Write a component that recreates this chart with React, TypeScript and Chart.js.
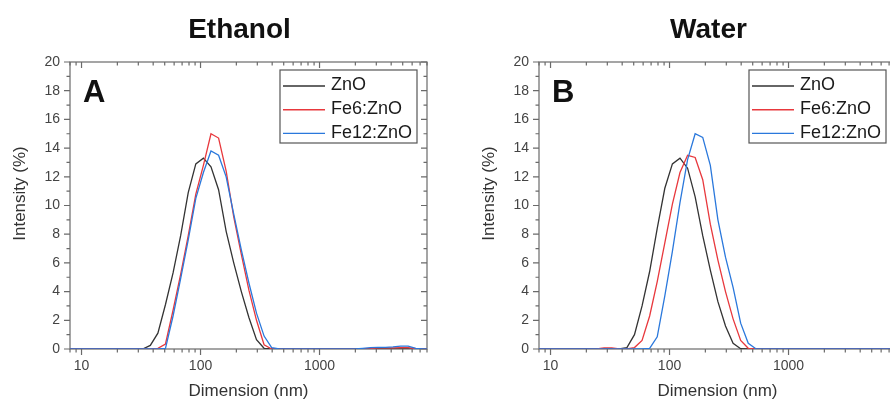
import React, { useEffect, useRef } from "react";
import { Chart, registerables } from "chart.js";

Chart.register(...registerables);

// DLS size bins (nm)
const sizes = [
  7.531, 8.721, 10.1, 11.7, 13.54, 15.69, 18.17, 21.04, 24.36, 28.21, 32.67, 37.84,
  43.82, 50.75, 58.77, 68.06, 78.82, 91.28, 105.7, 122.4, 141.8, 164.2, 190.1, 220.2,
  255, 295.3, 342, 396.1, 458.7, 531.2, 615.1, 712.4, 825, 955.4, 1106, 1281, 1484,
  1718, 1990, 2305, 2669, 3091, 3580, 4145, 4801, 5560, 6439, 7456, 8635,
];

// Panel A – Ethanol (intensity %)
const ethanolZnO = [
  0, 0, 0, 0, 0, 0, 0, 0, 0, 0, 0, 0.25,
  1.1, 3.1, 5.3, 7.9, 10.9, 12.9, 13.3, 12.7, 11.1, 8.2, 6.0, 4.0,
  2.2, 0.65, 0.05, 0, 0, 0, 0, 0, 0, 0, 0, 0, 0,
  0, 0, 0, 0, 0, 0, 0, 0, 0, 0, 0, 0,
];
const ethanolFe6 = [
  0, 0, 0, 0, 0, 0, 0, 0, 0, 0, 0, 0,
  0.05, 0.35, 2.7, 5.2, 7.9, 10.8, 12.8, 15.0, 14.7, 12.4, 9.2, 6.6,
  4.1, 2.0, 0.3, 0, 0, 0, 0, 0, 0, 0, 0, 0, 0,
  0, 0, 0, 0.03, 0.08, 0.08, 0.08, 0.1, 0.1, 0.02, 0, 0,
];
const ethanolFe12 = [
  0, 0, 0, 0, 0, 0, 0, 0, 0, 0, 0, 0,
  0, 0.05, 2.3, 4.9, 7.6, 10.5, 12.3, 13.8, 13.5, 12.0, 9.4, 6.9,
  4.6, 2.5, 0.9, 0.1, 0, 0, 0, 0, 0, 0, 0, 0, 0,
  0, 0, 0.05, 0.1, 0.12, 0.12, 0.15, 0.2, 0.2, 0.05, 0, 0,
];

// Panel B – Water (intensity %)
const waterZnO = [
  0, 0, 0, 0, 0, 0, 0, 0, 0, 0, 0, 0,
  0.1, 1.0, 3.0, 5.4, 8.4, 11.2, 12.9, 13.3, 12.6, 10.6, 7.9, 5.5,
  3.3, 1.6, 0.4, 0.02, 0, 0, 0, 0, 0, 0, 0, 0, 0,
  0, 0, 0, 0, 0, 0, 0, 0, 0, 0, 0, 0,
];
const waterFe6 = [
  0, 0, 0, 0, 0, 0, 0, 0, 0, 0.08, 0.08, 0,
  0, 0.1, 0.6, 2.3, 4.7, 7.4, 10.1, 12.3, 13.5, 13.35, 11.8, 8.7,
  6.2, 4.0, 2.1, 0.6, 0.05, 0, 0, 0, 0, 0, 0, 0, 0,
  0, 0, 0, 0, 0, 0, 0, 0, 0, 0, 0, 0,
];
const waterFe12 = [
  0, 0, 0, 0, 0, 0, 0, 0, 0, 0, 0, 0,
  0, 0, 0, 0.05, 0.85, 3.7, 6.8, 10.2, 13.2, 15.0, 14.75, 12.8,
  9.0, 6.4, 4.3, 1.8, 0.4, 0.02, 0, 0, 0, 0, 0, 0, 0,
  0, 0, 0, 0, 0, 0, 0, 0, 0, 0, 0, 0,
];

const seriesLabels = ["ZnO", "Fe6:ZnO", "Fe12:ZnO"];
const seriesColors = ["#333333", "#e8383d", "#2a78dc"];

const xTickValues = [10, 100, 1000];
const xMin = 8;
const xMax = 8000;
const yMin = 0;
const yMax = 20;
const yStep = 2;
const yMinorStep = 1;

const xTitle = "Dimension (nm)";
const yTitle = "Intensity (%)";

const FONT = "'Liberation Sans', Arial, sans-serif";

const decorPlugin = {
  id: "decor",
  beforeDatasetsDraw(chart: any) {
    const { ctx, chartArea: a } = chart;
    const xs = chart.scales.x;
    const ys = chart.scales.y;
    ctx.save();
    ctx.strokeStyle = "#6a6a6a";
    ctx.lineWidth = 1.2;
    ctx.strokeRect(a.left, a.top, a.right - a.left, a.bottom - a.top);
    ctx.beginPath();
    // y ticks (left outward, right inward)
    for (let v = yMin; v <= yMax; v += yMinorStep) {
      const len = v % yStep === 0 ? 6 : 3.5;
      const py = ys.getPixelForValue(v);
      ctx.moveTo(a.left - len, py);
      ctx.lineTo(a.left, py);
      ctx.moveTo(a.right, py);
      ctx.lineTo(a.right - len, py);
    }
    // x ticks (bottom outward, top inward)
    for (let dec = 1; dec <= 1000; dec *= 10) {
      for (let m = 1; m <= 9; m++) {
        const v = m * dec;
        if (v < xMin || v > xMax) continue;
        const len = m === 1 ? 6 : 3.5;
        const px = xs.getPixelForValue(v);
        ctx.moveTo(px, a.bottom);
        ctx.lineTo(px, a.bottom + len);
        ctx.moveTo(px, a.top);
        ctx.lineTo(px, a.top + len);
      }
    }
    ctx.stroke();
    ctx.restore();
  },
  afterDraw(chart: any, _args: any, opts: any) {
    const { ctx, chartArea: a } = chart;
    ctx.save();
    // Panel title
    ctx.fillStyle = "#111";
    ctx.font = `bold 28px ${FONT}`;
    ctx.textAlign = "center";
    ctx.textBaseline = "alphabetic";
    ctx.fillText(opts.title, (a.left + a.right) / 2 - 9, 38);
    // Panel letter
    ctx.font = `bold 31px ${FONT}`;
    ctx.textAlign = "left";
    ctx.fillText(opts.letter, a.left + 13, a.top + 40);
    // Y title
    ctx.save();
    ctx.translate(a.left - 50, (a.top + a.bottom) / 2 - 12);
    ctx.rotate(-Math.PI / 2);
    ctx.font = `17px ${FONT}`;
    ctx.fillStyle = "#333";
    ctx.textAlign = "center";
    ctx.textBaseline = "middle";
    ctx.fillText(yTitle, 0, 0);
    ctx.restore();
    // Legend
    const bx = a.right - 147;
    const by = a.top + 8;
    const bw = 137;
    const bh = 73;
    ctx.fillStyle = "#fff";
    ctx.fillRect(bx, by, bw, bh);
    ctx.strokeStyle = "#555";
    ctx.lineWidth = 1.2;
    ctx.strokeRect(bx, by, bw, bh);
    ctx.font = `18px ${FONT}`;
    ctx.textBaseline = "middle";
    ctx.textAlign = "left";
    chart.data.datasets.forEach((ds: any, i: number) => {
      const ry = by + 14.5 + i * 23.7;
      ctx.strokeStyle = ds.borderColor;
      ctx.lineWidth = 1.4;
      ctx.beginPath();
      ctx.moveTo(bx + 3, ry + 1.5);
      ctx.lineTo(bx + 45, ry + 1.5);
      ctx.stroke();
      ctx.fillStyle = "#1a1a1a";
      ctx.fillText(ds.label, bx + 51, ry + 1);
    });
    ctx.restore();
  },
};

function Panel(props: { title: string; letter: string; series: number[][]; left: number }) {
  const ref = useRef<HTMLCanvasElement>(null);
  useEffect(() => {
    const chart = new Chart(ref.current as HTMLCanvasElement, {
      type: "line",
      data: {
        datasets: props.series.map((vals, i) => ({
          label: seriesLabels[i],
          data: sizes.map((s, j) => ({ x: s, y: vals[j] })),
          borderColor: seriesColors[i],
          backgroundColor: seriesColors[i],
          borderWidth: 1.3,
          pointRadius: 0,
          tension: 0,
          order: 3 - i,
        })),
      },
      options: {
        responsive: false,
        animation: false,
        events: [],
        layout: { padding: { top: 62, right: 18, left: 0, bottom: 0 } },
        plugins: {
          legend: { display: false },
          tooltip: { enabled: false },
          decor: { title: props.title, letter: props.letter },
        } as any,
        scales: {
          x: {
            type: "logarithmic",
            min: xMin,
            max: xMax,
            afterBuildTicks: (scale: any) => {
              scale.ticks = xTickValues.map((v) => ({ value: v }));
            },
            afterFit: (scale: any) => {
              scale.height = 54;
            },
            grid: { drawOnChartArea: false, drawTicks: true, tickLength: 6, color: "rgba(0,0,0,0)" },
            border: { display: false },
            ticks: {
              autoSkip: false,
              maxRotation: 0,
              padding: 3,
              color: "#444",
              font: { family: FONT, size: 14 },
              callback: (v: any) => String(v),
            },
            title: {
              display: true,
              text: xTitle,
              color: "#333",
              font: { family: FONT, size: 17 },
              padding: { top: 0, bottom: 1 },
            },
          },
          y: {
            min: yMin,
            max: yMax,
            afterFit: (scale: any) => {
              scale.width = 70;
            },
            grid: { drawOnChartArea: false, drawTicks: true, tickLength: 6, color: "rgba(0,0,0,0)" },
            border: { display: false },
            ticks: {
              stepSize: yStep,
              padding: 4,
              color: "#444",
              font: { family: FONT, size: 14 },
            },
          },
        } as any,
      },
      plugins: [decorPlugin as any],
    });
    return () => chart.destroy();
  }, []);
  return (
    <canvas
      ref={ref}
      width={445}
      height={403}
      style={{ position: "absolute", left: props.left, top: 0, width: 445, height: 403, display: "block" }}
    />
  );
}

export default function App() {
  return (
    <div
      style={{
        position: "fixed",
        left: 0,
        top: 0,
        width: 890,
        height: 403,
        overflow: "hidden",
        background: "#fff",
      }}
    >
      <Panel title="Ethanol" letter="A" series={[ethanolZnO, ethanolFe6, ethanolFe12]} left={0} />
      <Panel title="Water" letter="B" series={[waterZnO, waterFe6, waterFe12]} left={469} />
    </div>
  );
}
